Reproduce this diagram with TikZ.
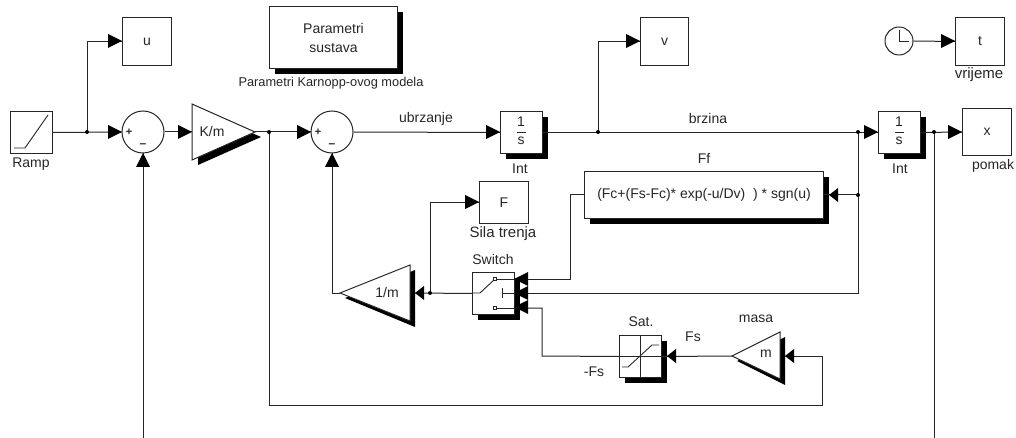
\documentclass[tikz,border=0pt]{standalone}
\usepackage{fontspec}
\setmainfont{Liberation Sans}
\usetikzlibrary{calc}
\tikzset{
  x=1pt,y=-1pt,
  wire/.style={draw=black!85,line width=1pt},
  lbl/.style={inner sep=0pt,text=black!85,font=\fontsize{14}{17}\selectfont},
  ink/.style={draw=black!85,line width=.9pt},
  shape outline/.style={draw=black!85,fill=white,line width=1pt},
  dotj/.style={circle,fill=black,inner sep=0pt,minimum size=4pt}
}
\newcommand{\block}[6]{% name, x1, y1, x2, y2, text
  \fill[black] (#2+6,#3+6) rectangle (#4+6,#5+6);
  \plainblock{#1}{#2}{#3}{#4}{#5}{#6}
}
\newcommand{\plainblock}[6]{%
  \node[shape outline,inner sep=0pt,minimum width=#4-#2,minimum height=#5-#3,anchor=north west,text=black!85,font=\fontsize{14}{19}\selectfont,align=center] (#1) at (#2,#3) {#6};
}
\newcommand{\atip}[3]{% tip x,y ; dir: r l u
  \ifx#3r\fill[black] (#1,#2) -- (#1-14,#2-7) -- (#1-14,#2+7) -- cycle;\fi
  \ifx#3l\fill[black] (#1,#2) -- (#1+14,#2-7) -- (#1+14,#2+7) -- cycle;\fi
  \ifx#3u\fill[black] (#1,#2) -- (#1-7,#2+14) -- (#1+7,#2+14) -- cycle;\fi
}
\newcommand{\stip}[2]{\fill[black] (#1,#2) -- (#1+9,#2-7) -- (#1+9,#2+7) -- cycle;}
\begin{document}
\begin{tikzpicture}
\useasboundingbox (0,0) rectangle (1016,438);
% Ramp
\plainblock{ramp}{10}{111}{52}{153}{}
\draw[ink] (14,148) -- (25,148) -- (48,115);
\node[lbl] (lramp) at (31,164) {Ramp};
% u
\plainblock{u}{122}{17}{171}{65}{u}
% sum1
\node[shape outline,circle,minimum size=42pt,inner sep=0pt] (s1) at (143,132) {};
\node[lbl,font=\bfseries\fontsize{11}{11}\selectfont] (s1p) at (129,132) {+};
\node[lbl,font=\bfseries\fontsize{12}{12}\selectfont] (s1m) at (143,146) {--};
% K/m
\fill[black] (198,109) -- (198,165) -- (261,137) -- cycle;
\draw[shape outline] (192,104) -- (192,160) -- (255,132) -- cycle;
\coordinate (kin) at (192,132); \coordinate (kout) at (255,132);
\node[lbl] (lk) at (212,131) {K/m};
% sum2
\node[shape outline,circle,minimum size=42pt,inner sep=0pt] (s2) at (332,132) {};
\node[lbl,font=\bfseries\fontsize{11}{11}\selectfont] (s2p) at (318,132) {+};
\node[lbl,font=\bfseries\fontsize{12}{12}\selectfont] (s2m) at (332,146) {--};
% Param
\block{par}{269}{6}{397}{68}{Parametri\\sustava}
\node[lbl,font=\fontsize{12.8}{15}\selectfont] (lpar) at (331,83) {Parametri Karnopp-ovog modela};
% Int1
\block{i1}{500}{111}{542}{153}{}
\node[lbl] (i1a) at (521,122) {1};
\draw[ink] (517,132.5) -- (526,132.5);
\node[lbl] (i1b) at (521,141) {s};
\node[lbl] (li1) at (520,169) {Int};
% v
\plainblock{v}{640}{17}{688}{65}{v}
% Int2
\block{i2}{878}{111}{920}{153}{}
\node[lbl] (i2a) at (899,122) {1};
\draw[ink] (895,132.5) -- (904,132.5);
\node[lbl] (i2b) at (899,141) {s};
\node[lbl] (li2) at (900,169) {Int};
% x
\plainblock{xb}{962}{108}{1011}{155}{x}
\node[lbl] (lx) at (993,166) {pomak};
% clock
\node[shape outline,circle,minimum size=28pt,inner sep=0pt] (clk) at (899,41) {};
\draw[ink] (899,30) -- (899,41) -- (909,41);
% t
\plainblock{t}{955}{17}{1004}{65}{t}
\node[lbl,font=\fontsize{15}{17}\selectfont] (lt) at (979,75) {vrijeme};
% Ff
\block{ff}{584}{171}{823}{218}{(Fc+(Fs-Fc)* exp(-u/Dv)~~) * sgn(u)}
\node[lbl] (lff) at (704,158) {Ff};
% F
\plainblock{f}{479}{181}{528}{223}{F}
\node[lbl,font=\fontsize{15}{17}\selectfont] (lf) at (503,234) {Sila trenja};
% Switch
\block{sw}{472}{272}{514}{314}{}
\node[lbl] (lsw) at (493,259) {Switch};
\draw[ink] (472,293) -- (480,293) -- (495,279);
\draw[ink,fill=white] (493.5,277.5) rectangle (496.5,280.5);
\draw[ink] (496.5,279) -- (514,279);
\draw[ink,fill=white] (493.5,306.5) rectangle (496.5,309.5);
\draw[ink] (496.5,308) -- (514,308);
\draw[ink] (502,288) -- (502,298) (502,293) -- (514,293);
% 1/m
\fill[black] (345,298) -- (415,270) -- (415,327) -- cycle;
\draw[shape outline] (340,293) -- (410,265) -- (410,321) -- cycle;
\coordinate (gout) at (340,293);
\coordinate (gin) at (415,293);
\node[lbl] (lg) at (387,292) {1/m};
% Sat
\block{sat}{619}{335}{661}{377}{}
\draw[ink] (640,335) -- (640,377) (619,356) -- (661,356);
\draw[ink] (622,367) -- (628,367) -- (652,345) -- (659,345);
\node[lbl] (lsat) at (641,322) {Sat.};
\node[lbl] (lfs) at (693,337) {Fs};
\node[lbl] (lmfs) at (594,372) {-Fs};
% m
\fill[black] (737,361) -- (785,337) -- (785,385) -- cycle;
\draw[shape outline] (732,356) -- (780,332) -- (780,379) -- cycle;
\coordinate (mout) at (732,356);
\coordinate (min) at (785,356);
\node[lbl] (lm) at (766,354) {m};
\node[lbl] (lmasa) at (756,319) {masa};
\node[lbl] (lub) at (426,119) {ubrzanje};
\node[lbl] (lbr) at (708,118) {brzina};
% free ends
\coordinate (bot1) at (143,438);
\coordinate (bot2) at (934,438);
% wires
\coordinate (j1) at (87,132);
\coordinate (j2) at (269,132);
\coordinate (j3) at (598,132);
\coordinate (j4) at (858,132);
\coordinate (j5) at (858,195);
\coordinate (j6) at (934,132);
\coordinate (j7) at (430,293);
\draw[wire] (ramp.east) -- (s1.west);
\draw[wire] (j1) |- (u.west);
\draw[wire] (s1.east) -- (kin);
\draw[wire] (kout) -- (s2.west);
\draw[wire] (s2.east) -- (i1.west);
\draw[wire] (bot1) -- (s1.south);
\draw[wire] (i1.east) -- (i2.west);
\draw[wire] (j3) |- (v.west);
\draw[wire] (i2.east) -- (xb.west);
\draw[wire] (bot2) -- (j6);
\draw[wire] (clk.east) -- (t.west);
\draw[wire] (j4) -- (858,293) -- (514,293);
\draw[wire] (j5) -- (ff.east);
\draw[wire] (ff.west) -- (570,195) |- (514,279);
\draw[wire] (514,308) -| (542,356) -- (sat.west);
\draw[wire] (sat.east) -- (mout);
\draw[wire] (sw.west) -- (gin);
\draw[wire] (gout) -| (s2.south);
\draw[wire] (j7) |- (f.west);
\draw[wire] (j2) |- (822,405) |- (min);
% tips
\atip{122}{132}{r} \atip{122}{41}{r} \atip{192}{132}{r}
\atip{143}{153}{u} \atip{311}{132}{r} \atip{332}{153}{u}
\atip{500}{132}{r} \atip{640}{41}{r} \atip{878}{132}{r}
\atip{962}{132}{r} \atip{955}{41}{r} \atip{479}{202}{r}
\atip{514}{279}{l} \atip{514}{293}{l} \atip{514}{307}{l}
\stip{415}{293} \stip{829}{195} \stip{667}{356} \stip{785}{356}
% junction dots
\foreach \n in {j1,j2,j3,j4,j5,j6,j7} \node[dotj] (d\n) at (\n) {};
\end{tikzpicture}
\end{document}
